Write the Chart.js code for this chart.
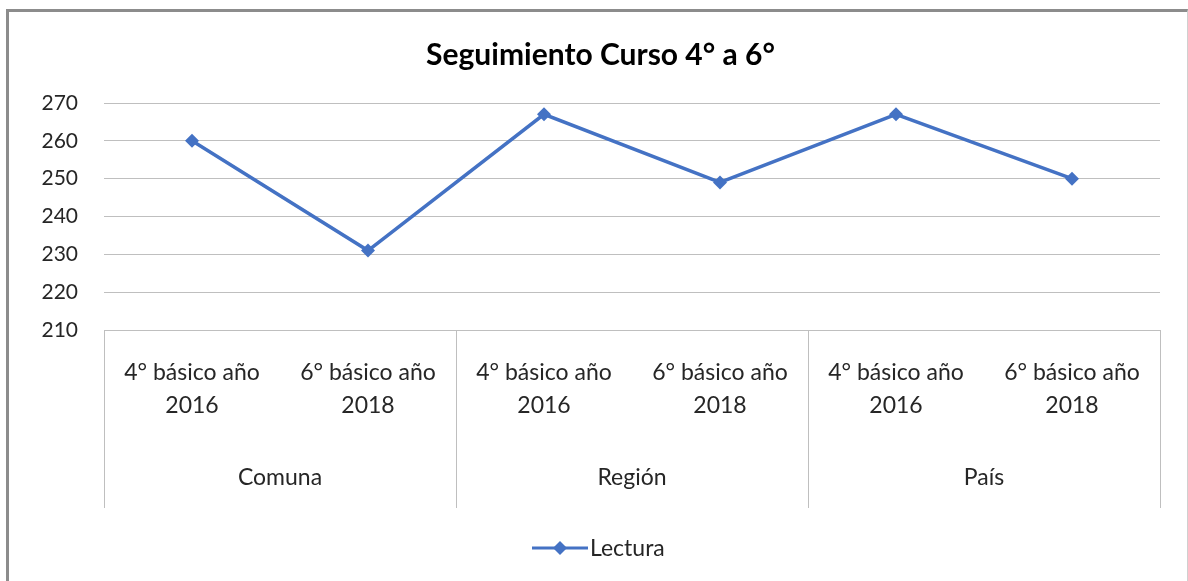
<!DOCTYPE html>
<html>
<head>
<meta charset="utf-8">
<script src="https://cdn.jsdelivr.net/npm/chart.js@4.4.1/dist/chart.umd.min.js"></script>
<style>
  body { margin: 0; background: #fff; }
  #frame {
    position: absolute; left: 6px; top: 9px; width: 1178px; height: 575px;
    border-left: 3px solid #8c8c8c; border-top: 3px solid #8c8c8c;
    border-right: 1px solid #d0d0d0;
  }
  #mycanvas { display: block; }
</style>
</head>
<body>
<div id="frame"><canvas id="mycanvas" width="1178" height="572"></canvas></div>
<script>
// categories, grouped two by two
var cursos = [['4° básico año', '2016'], ['6° básico año', '2018'],
              ['4° básico año', '2016'], ['6° básico año', '2018'],
              ['4° básico año', '2016'], ['6° básico año', '2018']];
var grupos = ['Comuna', 'Región', 'País'];
var lectura = [260, 231, 267, 249, 267, 250];
var yTicks = [210, 220, 230, 240, 250, 260, 270];

var azul = '#4472C4';
var gris = '#bfbfbf';
var fuente = 'Lato, "Open Sans", sans-serif';

// draws the group row, its separators and the legend
var gruposPlugin = {
	id: 'grupos',
	afterLayout: function(chart){
		// center the title over the whole frame, not just the padded box
		if(chart.titleBlock){
			chart.titleBlock.left += 16;
			chart.titleBlock.right += 16;
		}
	},
	afterDraw: function(chart){
		var ctx = chart.ctx;
		var x = chart.scales.x;
		var area = chart.chartArea;
		var per = cursos.length / grupos.length;
		var half = (x.getPixelForValue(1) - x.getPixelForValue(0)) / 2;
		var bottom = x.bottom;

		ctx.save();
		ctx.strokeStyle = gris;
		ctx.lineWidth = 1;
		for(var g = 0; g <= grupos.length; g++){
			var idx = Math.min(g * per, cursos.length - 1);
			var px = g * per < cursos.length ? x.getPixelForValue(idx) - half : x.getPixelForValue(idx) + half;
			px = Math.round(px) + 0.5;
			ctx.beginPath();
			ctx.moveTo(px, area.bottom);
			ctx.lineTo(px, bottom);
			ctx.stroke();
		}

		ctx.fillStyle = '#262626';
		ctx.font = '23px ' + fuente;
		ctx.textAlign = 'center';
		ctx.textBaseline = 'middle';
		for(var i = 0; i < grupos.length; i++){
			var a = x.getPixelForValue(i * per);
			var b = x.getPixelForValue(i * per + per - 1);
			ctx.fillText(grupos[i], (a + b) / 2, bottom - 30);
		}

		// legend: line with diamond, then label
		var ly = chart.height - 36;
		var label = chart.data.datasets[0].label;
		var tw = ctx.measureText(label).width;
		var lx = 523;
		ctx.strokeStyle = azul;
		ctx.lineWidth = 3;
		ctx.beginPath();
		ctx.moveTo(lx, ly);
		ctx.lineTo(lx + 56, ly);
		ctx.stroke();
		ctx.fillStyle = azul;
		ctx.beginPath();
		ctx.moveTo(lx + 28, ly - 7);
		ctx.lineTo(lx + 35, ly);
		ctx.lineTo(lx + 28, ly + 7);
		ctx.lineTo(lx + 21, ly);
		ctx.closePath();
		ctx.fill();
		ctx.fillStyle = '#262626';
		ctx.textAlign = 'left';
		ctx.fillText(label, lx + 58, ly + 1);
		ctx.restore();
	}
};

var chartdata = {
	labels: cursos,
	datasets: [
		{
			label: 'Lectura',
			data: lectura,
			borderColor: azul,
			backgroundColor: azul,
			borderWidth: 3.5,
			pointStyle: 'rectRot',
			pointRadius: 7,
			pointHoverRadius: 7,
			pointBorderWidth: 0,
			tension: 0
		}
	]
};

var ctx = document.getElementById('mycanvas');

var lineGraph = new Chart(ctx, {
	type: 'line',
	data: chartdata,
	plugins: [gruposPlugin],
	options: {
		responsive: false,
		animation: false,
		layout: { padding: { left: 0, right: 27, top: 0, bottom: 76 } },
		plugins: {
			legend: { display: false },
			tooltip: { enabled: false },
			title: {
				display: true,
				text: 'Seguimiento Curso 4° a 6°',
				color: '#000',
				font: { family: fuente, size: 30, weight: 'bold' },
				padding: { top: 25, bottom: 30 }
			}
		},
		scales: {
			x: {
				offset: true,
				grid: { display: false },
				border: { display: false },
				ticks: {
					color: '#262626',
					font: { family: fuente, size: 23, lineHeight: 1.45 },
					padding: 18,
					maxRotation: 0,
					autoSkip: false
				},
				afterFit: function(scale){ scale.height = 178; }
			},
			y: {
				min: yTicks[0],
				max: yTicks[yTicks.length - 1],
				afterBuildTicks: function(scale){
					scale.ticks = yTicks.map(function(v){ return { value: v }; });
				},
				grid: { color: gris, lineWidth: 1, drawTicks: false },
				border: { display: false },
				ticks: {
					color: '#262626',
					font: { family: fuente, size: 21 },
					padding: 26
				},
				afterFit: function(scale){ scale.width = 95; }
			}
		}
	}
});
</script>
</body>
</html>
